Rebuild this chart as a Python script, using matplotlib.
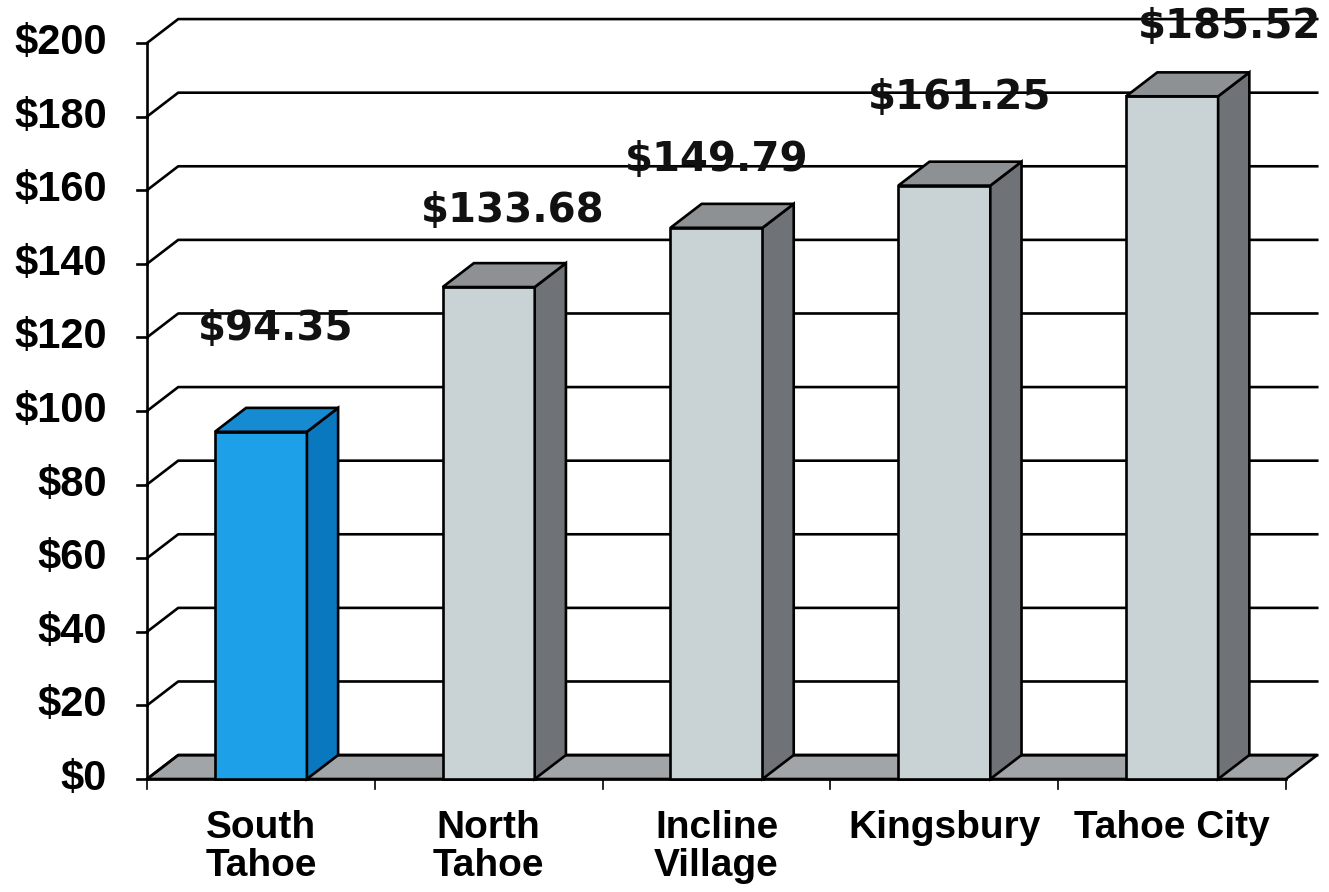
import matplotlib.pyplot as plt
from matplotlib.patches import Polygon

# rate per location
towns = ['South\nTahoe', 'North\nTahoe', 'Incline\nVillage', 'Kingsbury', 'Tahoe City']
rates = [94.35, 133.68, 149.79, 161.25, 185.52]
value_labels = ['$94.35', '$133.68', '$149.79', '$161.25', '$185.52']
y_ticks = [0, 20, 40, 60, 80, 100, 120, 140, 160, 180, 200]

# label placement relative to each category (x) and bar top (y)
lbl_dx = [0.564, 0.607, 0.502, 0.569, 0.754]
lbl_dy = [27.9, 20.7, 18.4, 23.8, 18.8]

# fake 3d depth offset
DX, DY = 0.137, 6.5
BAR_W = 0.404

front_c = ['#1ea0e8'] + ['#c9d2d4'] * 4
side_c = ['#0a78bf'] + ['#6f7377'] * 4
top_c = ['#168bd2'] + ['#8e9194'] * 4

fig = plt.figure(figsize=(13.29, 8.92), dpi=100)
ax = fig.add_axes([0, 0, 1, 1])
ax.set_xlim(-147 / 227.8, (1329 - 147) / 227.8)
ax.set_ylim(-(892 - 779) / 3.68, 779 / 3.68)
ax.axis('off')

n = len(towns)
lw = 1.9

# floor
ax.add_patch(Polygon([(0, 0), (n, 0), (n + DX, DY), (DX, DY)], closed=True,
                     facecolor='#a2a5a8', edgecolor='black', lw=lw, zorder=1))

# back wall gridlines and left wall
for v in y_ticks:
    ax.plot([0, DX, n + DX], [v, v + DY, v + DY], color='black', lw=lw, zorder=2)
    ax.plot([-0.045, 0], [v, v], color='black', lw=lw, zorder=2)
    ax.text(-0.176, v, f'${v}', ha='right', va='center', fontsize=30,
            fontweight='bold', family='Liberation Sans')
ax.plot([0, 0], [0, 200], color='black', lw=lw, zorder=2)
ax.plot([0, n], [0, 0], color='black', lw=lw, zorder=2)
for i in range(n + 1):
    ax.plot([i, i], [0, -2.8], color='black', lw=1.2, zorder=2)

# bars
for i, (v, town) in enumerate(zip(rates, towns)):
    x0 = i + 0.5 - BAR_W / 2
    x1 = i + 0.5 + BAR_W / 2
    ax.add_patch(Polygon([(x0, 0), (x1, 0), (x1, v), (x0, v)], closed=True,
                         facecolor=front_c[i], edgecolor='black', lw=lw, zorder=4))
    ax.add_patch(Polygon([(x1, 0), (x1 + DX, DY), (x1 + DX, v + DY), (x1, v)], closed=True,
                         facecolor=side_c[i], edgecolor='black', lw=lw, zorder=4))
    ax.add_patch(Polygon([(x0, v), (x1, v), (x1 + DX, v + DY), (x0 + DX, v + DY)], closed=True,
                         facecolor=top_c[i], edgecolor='black', lw=lw, zorder=4))
    ax.text(i + lbl_dx[i], v + lbl_dy[i], value_labels[i], ha='center', va='center',
            fontsize=29, fontweight='bold', family='DejaVu Sans', color='#111111', zorder=6)
    ax.text(i + 0.5, -8.3, town, ha='center', va='top', fontsize=28, fontweight='bold',
            family='Liberation Sans', linespacing=1.08)

fig.savefig('out.png', dpi=100)
